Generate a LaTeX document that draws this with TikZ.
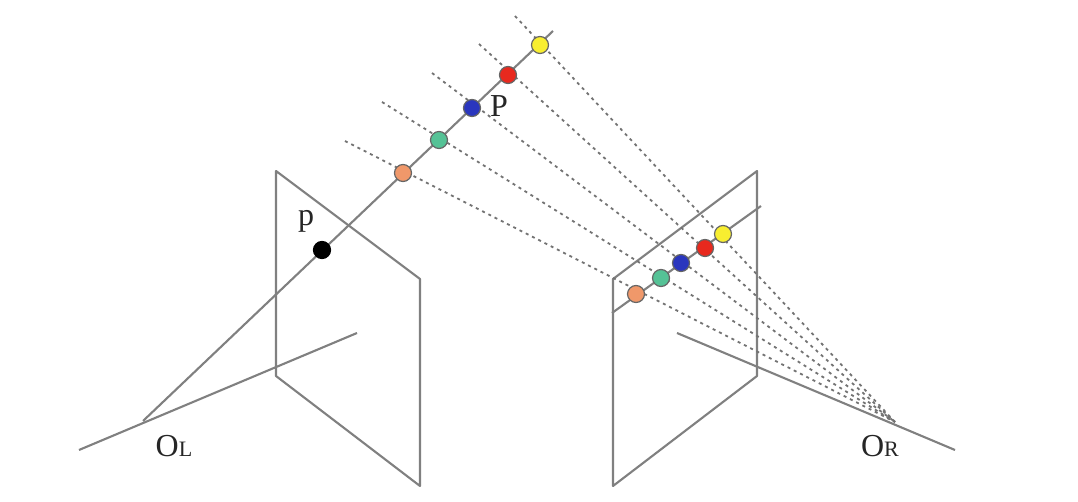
\documentclass[tikz,border=0pt]{standalone}
\usepackage{fontspec}
\setmainfont{Liberation Serif}
\definecolor{lin}{HTML}{808080}
\definecolor{dorange}{HTML}{F0986A}
\definecolor{dgreen}{HTML}{55C296}
\definecolor{dblue}{HTML}{2A36BE}
\definecolor{dred}{HTML}{E8291E}
\definecolor{dyellow}{HTML}{F8EE30}
\tikzset{
  solidline/.style={draw=lin,line width=2.1pt,line join=round},
  dashline/.style={draw=lin!90!black,line width=1.8pt,dash pattern=on 3pt off 4pt},
  dot/.style={circle,draw=lin!80!black,line width=1.2pt,minimum size=17pt,inner sep=0pt},
  lab/.style={inner sep=0pt,text=black!85}
}
\newcommand{\biglab}[2]{{\fontsize{32}{32}\selectfont #1\fontsize{22}{22}\selectfont #2}}
\begin{document}
\begin{tikzpicture}[x=1pt,y=-1pt]
\useasboundingbox (0,0) rectangle (1078,502);
\fill[white] (0,0) rectangle (1078,502);
% named end points
\coordinate (OLp) at (143,421);
\coordinate (rayEnd) at (553,31);
\coordinate (ORp) at (895,422);
\coordinate (blA) at (79,450);
\coordinate (blB) at (357,333);
\coordinate (brA) at (677,333);
\coordinate (brB) at (955,450);
\coordinate (epA) at (612,313);
\coordinate (epB) at (761,206);
\coordinate (la) at (276,171);
\coordinate (lb) at (420,279);
\coordinate (lc) at (420,486);
\coordinate (ld) at (276,376);
\coordinate (ra) at (757,171);
\coordinate (rb) at (613,279);
\coordinate (rc) at (613,486);
\coordinate (rd) at (757,376);
\coordinate (s1) at (345,141);
\coordinate (s2) at (382,102);
\coordinate (s3) at (432,73);
\coordinate (s4) at (479,44);
\coordinate (s5) at (515,16);
% planes and lines
\draw[solidline] (la) -- (lb) -- (lc) -- (ld) -- cycle;
\draw[solidline] (ra) -- (rb) -- (rc) -- (rd) -- cycle;
\draw[solidline] (blA) -- (blB);
\draw[solidline] (brA) -- (brB);
\draw[solidline] (OLp) -- (rayEnd);
\draw[solidline] (epA) -- (epB);
\foreach \s in {s1,s2,s3,s4,s5} \draw[dashline] (\s) -- (ORp);
% dots on the ray
\node[dot,fill=dorange] (a1) at (403,173) {};
\node[dot,fill=dgreen] (a2) at (439,140) {};
\node[dot,fill=dblue] (a3) at (472,108) {};
\node[dot,fill=dred] (a4) at (508,75) {};
\node[dot,fill=dyellow] (a5) at (540,45) {};
% dots on the epipolar line
\node[dot,fill=dorange] (b1) at (636,294) {};
\node[dot,fill=dgreen] (b2) at (661,278) {};
\node[dot,fill=dblue] (b3) at (681,263) {};
\node[dot,fill=dred] (b4) at (705,248) {};
\node[dot,fill=dyellow] (b5) at (723,234) {};
\node[dot,fill=black,draw=black] (pimg) at (322,250) {};
% labels
\node[lab] (lP) at (499,106) {\fontsize{32}{32}\selectfont P};
\node[lab,anchor=base] (lp) at (306,226) {\fontsize{32}{32}\selectfont p};
\node[lab,anchor=base] (lOL) at (174,456) {\biglab{O}{L}};
\node[lab,anchor=base] (lOR) at (880,456) {\biglab{O}{R}};
\end{tikzpicture}
\end{document}
